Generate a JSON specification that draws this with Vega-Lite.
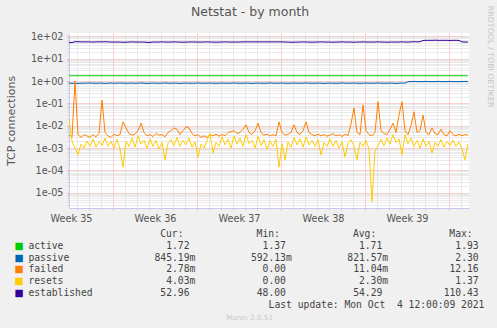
{
  "$schema": "https://vega.github.io/schema/vega-lite/v6.json",
  "background": "#f0f0f0",
  "padding": {"left": 5, "top": 5, "right": 6, "bottom": 8},
  "spacing": 5,
  "config": {"view": {"stroke": null}},
  "title": {"text": "RRDTOOL / TOBI OETIKER", "orient": "right", "anchor": "start", "font": "DejaVu Sans", "fontSize": 7.9, "fontWeight": "normal", "color": "#c4c4c4", "offset": 2},
  "datasets": {
    "series": [
      {"t":"2021-09-01T08:00","active":1.72,"passive":0.80,"failed":0.004,"resets":0.02,"established":52},
      {"t":"2021-09-01T14:00","active":1.72,"passive":0.79,"failed":0.003,"resets":0.002,"established":52},
      {"t":"2021-09-01T20:00","active":1.72,"passive":0.80,"failed":0.95,"resets":0.001,"established":57},
      {"t":"2021-09-02T02:00","active":1.72,"passive":0.78,"failed":0.004,"resets":0.0005,"established":57},
      {"t":"2021-09-02T08:00","active":1.72,"passive":0.79,"failed":0.003,"resets":0.0015,"established":56},
      {"t":"2021-09-02T14:00","active":1.72,"passive":0.81,"failed":0.004,"resets":0.001,"established":56},
      {"t":"2021-09-02T20:00","active":1.72,"passive":0.80,"failed":0.0035,"resets":0.002,"established":56},
      {"t":"2021-09-03T02:00","active":1.72,"passive":0.82,"failed":0.003,"resets":0.0012,"established":56},
      {"t":"2021-09-03T08:00","active":1.72,"passive":0.80,"failed":0.004,"resets":0.0025,"established":55},
      {"t":"2021-09-03T14:00","active":1.72,"passive":0.79,"failed":0.0032,"resets":0.0011,"established":56},
      {"t":"2021-09-03T20:00","active":1.72,"passive":0.81,"failed":0.0045,"resets":0.002,"established":56},
      {"t":"2021-09-04T02:00","active":1.72,"passive":0.80,"failed":0.14,"resets":0.0013,"established":56},
      {"t":"2021-09-04T08:00","active":1.72,"passive":0.78,"failed":0.005,"resets":0.0028,"established":57},
      {"t":"2021-09-04T14:00","active":1.72,"passive":0.80,"failed":0.0035,"resets":0.0012,"established":56},
      {"t":"2021-09-04T20:00","active":1.72,"passive":0.81,"failed":0.003,"resets":0.002,"established":55},
      {"t":"2021-09-05T02:00","active":1.72,"passive":0.79,"failed":0.0042,"resets":0.001,"established":55},
      {"t":"2021-09-05T08:00","active":1.72,"passive":0.80,"failed":0.0036,"resets":0.0025,"established":55},
      {"t":"2021-09-05T14:00","active":1.72,"passive":0.82,"failed":0.004,"resets":0.0009,"established":55},
      {"t":"2021-09-05T20:00","active":1.72,"passive":0.80,"failed":0.015,"resets":0.00014,"established":54},
      {"t":"2021-09-06T02:00","active":1.72,"passive":0.79,"failed":0.008,"resets":0.002,"established":54},
      {"t":"2021-09-06T08:00","active":1.72,"passive":0.80,"failed":0.0045,"resets":0.0012,"established":55},
      {"t":"2021-09-06T14:00","active":1.72,"passive":0.81,"failed":0.0038,"resets":0.0028,"established":56},
      {"t":"2021-09-06T20:00","active":1.72,"passive":0.79,"failed":0.0042,"resets":0.0011,"established":55},
      {"t":"2021-09-07T02:00","active":1.72,"passive":0.80,"failed":0.006,"resets":0.0035,"established":55},
      {"t":"2021-09-07T08:00","active":1.72,"passive":0.82,"failed":0.013,"resets":0.0015,"established":55},
      {"t":"2021-09-07T14:00","active":1.72,"passive":0.80,"failed":0.005,"resets":0.0022,"established":55},
      {"t":"2021-09-07T20:00","active":1.72,"passive":0.78,"failed":0.0035,"resets":0.001,"established":53},
      {"t":"2021-09-08T02:00","active":1.72,"passive":0.80,"failed":0.004,"resets":0.0026,"established":53},
      {"t":"2021-09-08T08:00","active":1.72,"passive":0.81,"failed":0.0033,"resets":0.0012,"established":55},
      {"t":"2021-09-08T14:00","active":1.72,"passive":0.80,"failed":0.0045,"resets":0.0022,"established":55},
      {"t":"2021-09-08T20:00","active":1.72,"passive":0.79,"failed":0.0038,"resets":0.0009,"established":55},
      {"t":"2021-09-09T02:00","active":1.72,"passive":0.80,"failed":0.004,"resets":0.0018,"established":56},
      {"t":"2021-09-09T08:00","active":1.72,"passive":0.82,"failed":0.0032,"resets":0.0003,"established":55},
      {"t":"2021-09-09T14:00","active":1.72,"passive":0.80,"failed":0.005,"resets":0.0016,"established":55},
      {"t":"2021-09-09T20:00","active":1.72,"passive":0.79,"failed":0.006,"resets":0.0024,"established":55},
      {"t":"2021-09-10T02:00","active":1.72,"passive":0.81,"failed":0.008,"resets":0.0013,"established":56},
      {"t":"2021-09-10T08:00","active":1.72,"passive":0.80,"failed":0.007,"resets":0.003,"established":55},
      {"t":"2021-09-10T14:00","active":1.72,"passive":0.78,"failed":0.004,"resets":0.0012,"established":55},
      {"t":"2021-09-10T20:00","active":1.72,"passive":0.80,"failed":0.006,"resets":0.0022,"established":54},
      {"t":"2021-09-11T02:00","active":1.72,"passive":0.81,"failed":0.009,"resets":0.0014,"established":55},
      {"t":"2021-09-11T08:00","active":1.72,"passive":0.80,"failed":0.008,"resets":0.0028,"established":55},
      {"t":"2021-09-11T14:00","active":1.72,"passive":0.79,"failed":0.0045,"resets":0.0011,"established":56},
      {"t":"2021-09-11T20:00","active":1.72,"passive":0.80,"failed":0.0035,"resets":0.0019,"established":55},
      {"t":"2021-09-12T02:00","active":1.72,"passive":0.82,"failed":0.004,"resets":0.0004,"established":55},
      {"t":"2021-09-12T08:00","active":1.72,"passive":0.80,"failed":0.003,"resets":0.0015,"established":55},
      {"t":"2021-09-12T14:00","active":1.72,"passive":0.79,"failed":0.0035,"resets":0.001,"established":55},
      {"t":"2021-09-12T20:00","active":1.72,"passive":0.80,"failed":0.003,"resets":0.0022,"established":56},
      {"t":"2021-09-13T02:00","active":1.72,"passive":0.81,"failed":0.004,"resets":0.0045,"established":55},
      {"t":"2021-09-13T08:00","active":1.72,"passive":0.80,"failed":0.0035,"resets":0.0006,"established":55},
      {"t":"2021-09-13T14:00","active":1.72,"passive":0.78,"failed":0.0042,"resets":0.0018,"established":54},
      {"t":"2021-09-13T20:00","active":1.72,"passive":0.80,"failed":0.0034,"resets":0.0012,"established":55},
      {"t":"2021-09-14T02:00","active":1.72,"passive":0.81,"failed":0.004,"resets":0.0032,"established":55},
      {"t":"2021-09-14T08:00","active":1.72,"passive":0.80,"failed":0.0036,"resets":0.0014,"established":56},
      {"t":"2021-09-14T14:00","active":1.72,"passive":0.79,"failed":0.005,"resets":0.0025,"established":55},
      {"t":"2021-09-14T20:00","active":1.72,"passive":0.80,"failed":0.0055,"resets":0.001,"established":55},
      {"t":"2021-09-15T02:00","active":1.72,"passive":0.82,"failed":0.006,"resets":0.0035,"established":55},
      {"t":"2021-09-15T08:00","active":1.72,"passive":0.80,"failed":0.0045,"resets":0.0015,"established":55},
      {"t":"2021-09-15T14:00","active":1.72,"passive":0.79,"failed":0.005,"resets":0.0028,"established":55},
      {"t":"2021-09-15T20:00","active":1.72,"passive":0.80,"failed":0.007,"resets":0.0012,"established":56},
      {"t":"2021-09-16T02:00","active":1.72,"passive":0.81,"failed":0.011,"resets":0.004,"established":56},
      {"t":"2021-09-16T08:00","active":1.72,"passive":0.80,"failed":0.005,"resets":0.0016,"established":56},
      {"t":"2021-09-16T14:00","active":1.72,"passive":0.78,"failed":0.004,"resets":0.0022,"established":56},
      {"t":"2021-09-16T20:00","active":1.72,"passive":0.80,"failed":0.006,"resets":0.001,"established":56},
      {"t":"2021-09-17T02:00","active":1.72,"passive":0.81,"failed":0.013,"resets":0.0034,"established":56},
      {"t":"2021-09-17T08:00","active":1.72,"passive":0.80,"failed":0.005,"resets":0.0013,"established":56},
      {"t":"2021-09-17T14:00","active":1.72,"passive":0.79,"failed":0.0038,"resets":0.0024,"established":56},
      {"t":"2021-09-17T20:00","active":1.72,"passive":0.80,"failed":0.0042,"resets":0.0009,"established":56},
      {"t":"2021-09-18T02:00","active":1.72,"passive":0.82,"failed":0.0035,"resets":0.0021,"established":56},
      {"t":"2021-09-18T08:00","active":1.72,"passive":0.80,"failed":0.004,"resets":0.0012,"established":56},
      {"t":"2021-09-18T14:00","active":1.72,"passive":0.79,"failed":0.0035,"resets":0.0025,"established":56},
      {"t":"2021-09-18T20:00","active":1.72,"passive":0.80,"failed":0.015,"resets":0.00014,"established":56},
      {"t":"2021-09-19T02:00","active":1.72,"passive":0.81,"failed":0.005,"resets":0.0016,"established":56},
      {"t":"2021-09-19T08:00","active":1.72,"passive":0.80,"failed":0.0038,"resets":0.0003,"established":55},
      {"t":"2021-09-19T14:00","active":1.72,"passive":0.78,"failed":0.0042,"resets":0.0019,"established":55},
      {"t":"2021-09-19T20:00","active":1.72,"passive":0.80,"failed":0.005,"resets":0.0011,"established":54},
      {"t":"2021-09-20T02:00","active":1.72,"passive":0.81,"failed":0.011,"resets":0.003,"established":54},
      {"t":"2021-09-20T08:00","active":1.72,"passive":0.80,"failed":0.005,"resets":0.0014,"established":55},
      {"t":"2021-09-20T14:00","active":1.72,"passive":0.79,"failed":0.004,"resets":0.0026,"established":55},
      {"t":"2021-09-20T20:00","active":1.72,"passive":0.80,"failed":0.006,"resets":0.0011,"established":56},
      {"t":"2021-09-21T02:00","active":1.72,"passive":0.82,"failed":0.015,"resets":0.0032,"established":55},
      {"t":"2021-09-21T08:00","active":1.72,"passive":0.80,"failed":0.005,"resets":0.0014,"established":55},
      {"t":"2021-09-21T14:00","active":1.72,"passive":0.79,"failed":0.004,"resets":0.0022,"established":54},
      {"t":"2021-09-21T20:00","active":1.72,"passive":0.80,"failed":0.0036,"resets":0.0012,"established":55},
      {"t":"2021-09-22T02:00","active":1.72,"passive":0.81,"failed":0.0042,"resets":0.0024,"established":55},
      {"t":"2021-09-22T08:00","active":1.72,"passive":0.80,"failed":0.0035,"resets":0.0005,"established":56},
      {"t":"2021-09-22T14:00","active":1.72,"passive":0.78,"failed":0.004,"resets":0.0018,"established":55},
      {"t":"2021-09-22T20:00","active":1.72,"passive":0.80,"failed":0.0034,"resets":0.0012,"established":55},
      {"t":"2021-09-23T02:00","active":1.72,"passive":0.81,"failed":0.0038,"resets":0.0026,"established":55},
      {"t":"2021-09-23T08:00","active":1.72,"passive":0.80,"failed":0.0045,"resets":0.0012,"established":54},
      {"t":"2021-09-23T14:00","active":1.72,"passive":0.79,"failed":0.0035,"resets":0.0022,"established":55},
      {"t":"2021-09-23T20:00","active":1.72,"passive":0.80,"failed":0.004,"resets":0.001,"established":55},
      {"t":"2021-09-24T02:00","active":1.72,"passive":0.82,"failed":0.0033,"resets":0.0019,"established":56},
      {"t":"2021-09-24T08:00","active":1.72,"passive":0.80,"failed":0.0042,"resets":0.0004,"established":55},
      {"t":"2021-09-24T14:00","active":1.72,"passive":0.79,"failed":0.0036,"resets":0.0016,"established":55},
      {"t":"2021-09-24T20:00","active":1.72,"passive":0.80,"failed":0.012,"resets":0.0024,"established":55},
      {"t":"2021-09-25T02:00","active":1.72,"passive":0.81,"failed":0.063,"resets":0.0012,"established":54},
      {"t":"2021-09-25T08:00","active":1.72,"passive":0.80,"failed":0.005,"resets":0.0003,"established":55},
      {"t":"2021-09-25T14:00","active":1.72,"passive":0.78,"failed":0.004,"resets":0.0018,"established":55},
      {"t":"2021-09-25T20:00","active":1.72,"passive":0.80,"failed":0.085,"resets":0.0012,"established":56},
      {"t":"2021-09-26T02:00","active":1.72,"passive":0.81,"failed":0.006,"resets":0.0022,"established":55},
      {"t":"2021-09-26T08:00","active":1.72,"passive":0.80,"failed":0.004,"resets":0.0009,"established":55},
      {"t":"2021-09-26T14:00","active":1.72,"passive":0.79,"failed":0.0035,"resets":0.000004,"established":55},
      {"t":"2021-09-26T20:00","active":1.72,"passive":0.80,"failed":0.005,"resets":0.0008,"established":55},
      {"t":"2021-09-27T02:00","active":1.72,"passive":0.82,"failed":0.12,"resets":0.0012,"established":56},
      {"t":"2021-09-27T08:00","active":1.72,"passive":0.80,"failed":0.006,"resets":0.0025,"established":55},
      {"t":"2021-09-27T14:00","active":1.72,"passive":0.79,"failed":0.0045,"resets":0.0013,"established":55},
      {"t":"2021-09-27T20:00","active":1.72,"passive":0.80,"failed":0.004,"resets":0.0028,"established":54},
      {"t":"2021-09-28T02:00","active":1.72,"passive":0.81,"failed":0.007,"resets":0.0015,"established":55},
      {"t":"2021-09-28T08:00","active":1.72,"passive":0.80,"failed":0.013,"resets":0.004,"established":55},
      {"t":"2021-09-28T14:00","active":1.72,"passive":0.78,"failed":0.005,"resets":0.0018,"established":55},
      {"t":"2021-09-28T20:00","active":1.72,"passive":0.80,"failed":0.03,"resets":0.0026,"established":55},
      {"t":"2021-09-29T02:00","active":1.72,"passive":0.81,"failed":0.12,"resets":0.0005,"established":56},
      {"t":"2021-09-29T08:00","active":1.72,"passive":0.80,"failed":0.006,"resets":0.004,"established":55},
      {"t":"2021-09-29T14:00","active":1.72,"passive":0.94,"failed":0.004,"resets":0.0016,"established":55},
      {"t":"2021-09-29T20:00","active":1.72,"passive":0.95,"failed":0.01,"resets":0.0028,"established":56},
      {"t":"2021-09-30T02:00","active":1.72,"passive":0.96,"failed":0.042,"resets":0.0012,"established":57},
      {"t":"2021-09-30T08:00","active":1.72,"passive":0.95,"failed":0.005,"resets":0.0022,"established":56},
      {"t":"2021-09-30T14:00","active":1.72,"passive":0.94,"failed":0.006,"resets":0.001,"established":57},
      {"t":"2021-09-30T20:00","active":1.72,"passive":0.95,"failed":0.03,"resets":0.0026,"established":65},
      {"t":"2021-10-01T02:00","active":1.72,"passive":0.96,"failed":0.005,"resets":0.0012,"established":66},
      {"t":"2021-10-01T08:00","active":1.72,"passive":0.95,"failed":0.004,"resets":0.002,"established":66},
      {"t":"2021-10-01T14:00","active":1.72,"passive":0.94,"failed":0.008,"resets":0.0006,"established":66},
      {"t":"2021-10-01T20:00","active":1.72,"passive":0.95,"failed":0.0045,"resets":0.0018,"established":67},
      {"t":"2021-10-02T02:00","active":1.72,"passive":0.96,"failed":0.004,"resets":0.0012,"established":66},
      {"t":"2021-10-02T08:00","active":1.72,"passive":0.95,"failed":0.007,"resets":0.0024,"established":66},
      {"t":"2021-10-02T14:00","active":1.72,"passive":0.94,"failed":0.004,"resets":0.0011,"established":66},
      {"t":"2021-10-02T20:00","active":1.72,"passive":0.95,"failed":0.0035,"resets":0.002,"established":66},
      {"t":"2021-10-03T02:00","active":1.72,"passive":0.96,"failed":0.006,"resets":0.0013,"established":65},
      {"t":"2021-10-03T08:00","active":1.72,"passive":0.95,"failed":0.004,"resets":0.0022,"established":66},
      {"t":"2021-10-03T14:00","active":1.72,"passive":0.94,"failed":0.0035,"resets":0.0012,"established":66},
      {"t":"2021-10-03T20:00","active":1.72,"passive":0.95,"failed":0.0042,"resets":0.0019,"established":65},
      {"t":"2021-10-04T02:00","active":1.72,"passive":0.95,"failed":0.0036,"resets":0.0009,"established":56},
      {"t":"2021-10-04T08:00","active":1.72,"passive":0.96,"failed":0.004,"resets":0.0003,"established":55},
      {"t":"2021-10-04T14:00","active":1.72,"passive":0.95,"failed":0.0038,"resets":0.0015,"established":55}
    ],
    "stats": [
      {"row":"active","col":"Cur","value":1.72,"unit":""},
      {"row":"active","col":"Min","value":1.37,"unit":""},
      {"row":"active","col":"Avg","value":1.71,"unit":""},
      {"row":"active","col":"Max","value":1.93,"unit":""},
      {"row":"passive","col":"Cur","value":845.19,"unit":"m"},
      {"row":"passive","col":"Min","value":592.13,"unit":"m"},
      {"row":"passive","col":"Avg","value":821.57,"unit":"m"},
      {"row":"passive","col":"Max","value":2.30,"unit":""},
      {"row":"failed","col":"Cur","value":2.78,"unit":"m"},
      {"row":"failed","col":"Min","value":0.00,"unit":""},
      {"row":"failed","col":"Avg","value":11.04,"unit":"m"},
      {"row":"failed","col":"Max","value":12.16,"unit":""},
      {"row":"resets","col":"Cur","value":4.03,"unit":"m"},
      {"row":"resets","col":"Min","value":0.00,"unit":""},
      {"row":"resets","col":"Avg","value":2.30,"unit":"m"},
      {"row":"resets","col":"Max","value":1.37,"unit":""},
      {"row":"established","col":"Cur","value":52.96,"unit":""},
      {"row":"established","col":"Min","value":48.00,"unit":""},
      {"row":"established","col":"Avg","value":54.29,"unit":""},
      {"row":"established","col":"Max","value":110.43,"unit":""}
    ]
  },
  "vconcat": [
    {
      "title": {"text": "Netstat - by month", "anchor": "middle", "frame": "group", "dx": -19, "font": "DejaVu Sans", "fontSize": 12.5, "fontWeight": "normal", "color": "#555555", "offset": 13},
      "width": 400,
      "height": 175,
      "view": {"fill": "white", "stroke": null},
      "data": {"name": "series"},
      "transform": [{"fold": ["active", "passive", "failed", "resets", "established"], "as": ["series", "v"]}],
      "mark": {"type": "line", "strokeWidth": 1, "clip": true},
      "encoding": {
        "x": {
          "field": "t", "type": "temporal",
          "scale": {"domain": [{"year": 2021, "month": 9, "date": 1, "hours": 8}, {"year": 2021, "month": 10, "date": 4, "hours": 16}], "nice": false},
          "axis": {
            "title": null,
            "values": [
              {"year":2021,"month":9,"date":2},{"year":2021,"month":9,"date":3},{"year":2021,"month":9,"date":4},{"year":2021,"month":9,"date":5},
              {"year":2021,"month":9,"date":6},{"year":2021,"month":9,"date":7},{"year":2021,"month":9,"date":8},{"year":2021,"month":9,"date":9},
              {"year":2021,"month":9,"date":10},{"year":2021,"month":9,"date":11},{"year":2021,"month":9,"date":12},{"year":2021,"month":9,"date":13},
              {"year":2021,"month":9,"date":14},{"year":2021,"month":9,"date":15},{"year":2021,"month":9,"date":16},{"year":2021,"month":9,"date":17},
              {"year":2021,"month":9,"date":18},{"year":2021,"month":9,"date":19},{"year":2021,"month":9,"date":20},{"year":2021,"month":9,"date":21},
              {"year":2021,"month":9,"date":22},{"year":2021,"month":9,"date":23},{"year":2021,"month":9,"date":24},{"year":2021,"month":9,"date":25},
              {"year":2021,"month":9,"date":26},{"year":2021,"month":9,"date":27},{"year":2021,"month":9,"date":28},{"year":2021,"month":9,"date":29},
              {"year":2021,"month":9,"date":30},{"year":2021,"month":10,"date":1},{"year":2021,"month":10,"date":2},{"year":2021,"month":10,"date":3},
              {"year":2021,"month":10,"date":4},
              {"year":2021,"month":9,"date":1,"hours":12},{"year":2021,"month":9,"date":8,"hours":12},{"year":2021,"month":9,"date":15,"hours":12},
              {"year":2021,"month":9,"date":22,"hours":12},{"year":2021,"month":9,"date":29,"hours":12}
            ],
            "labelExpr": "hours(datum.value) == 12 ? 'Week ' + timeFormat(datum.value, '%V') : ''",
            "labelOverlap": false,
            "labelFlush": false,
            "labelFont": "DejaVu Sans",
            "labelFontSize": 9.7,
            "labelColor": "#555555",
            "labelPadding": 3,
            "grid": true,
            "gridDash": [1, 1],
            "gridColor": {"condition": {"test": "day(datum.value) == 0", "value": "#f0a0a0"}, "value": "#d6d6d6"},
            "gridOpacity": {"condition": {"test": "hours(datum.value) == 12", "value": 0}, "value": 1},
            "tickSize": 2,
            "tickColor": {"condition": {"test": "day(datum.value) == 0", "value": "#f0a0a0"}, "value": "#d6d6d6"},
            "tickOpacity": {"condition": {"test": "hours(datum.value) == 12", "value": 0}, "value": 1},
            "domainColor": "#c8c8f0"
          }
        },
        "y": {
          "field": "v", "type": "quantitative",
          "scale": {"type": "log", "domain": [2.1e-6, 140], "nice": false},
          "axis": {
            "title": "TCP connections",
            "titleFont": "DejaVu Sans",
            "titleFontSize": 11,
            "titleFontWeight": "normal",
            "titleColor": "#555555",
            "titlePadding": 14,
            "values": [3e-6,4e-6,5e-6,6e-6,7e-6,8e-6,9e-6,
              1e-5,2e-5,3e-5,4e-5,5e-5,6e-5,7e-5,8e-5,9e-5,
              1e-4,2e-4,3e-4,4e-4,5e-4,6e-4,7e-4,8e-4,9e-4,
              0.001,0.002,0.003,0.004,0.005,0.006,0.007,0.008,0.009,
              0.01,0.02,0.03,0.04,0.05,0.06,0.07,0.08,0.09,
              0.1,0.2,0.3,0.4,0.5,0.6,0.7,0.8,0.9,
              1,2,3,4,5,6,7,8,9,
              10,20,30,40,50,60,70,80,90,100],
            "labelExpr": "abs(log(datum.value)/LN10 - round(log(datum.value)/LN10)) < 0.01 ? '1e' + (datum.value < 1 ? '-' : '+') + '0' + abs(round(log(datum.value)/LN10)) : ''",
            "labelOverlap": false,
            "labelFlush": false,
            "labelFont": "DejaVu Sans",
            "labelFontSize": 9.7,
            "labelColor": "#555555",
            "labelPadding": 4,
            "grid": true,
            "gridDash": [1, 1],
            "gridColor": {"condition": {"test": "abs(log(datum.value)/LN10 - round(log(datum.value)/LN10)) < 0.01", "value": "#f0a0a0"}, "value": "#d6d6d6"},
            "tickSize": 2,
            "tickColor": {"condition": {"test": "abs(log(datum.value)/LN10 - round(log(datum.value)/LN10)) < 0.01", "value": "#f0a0a0"}, "value": "#d6d6d6"},
            "domainColor": "#c8c8f0"
          }
        },
        "color": {
          "field": "series", "type": "nominal",
          "scale": {"domain": ["active", "passive", "failed", "resets", "established"], "range": ["#00cc00", "#0066b3", "#ff8000", "#ffcc00", "#330099"]},
          "legend": null
        }
      }
    },
    {
      "width": 409.7,
      "height": 82.8,
      "title": {"text": "Munin 2.0.51", "orient": "bottom", "anchor": "middle", "frame": "bounds", "dx": 0, "font": "DejaVu Sans", "fontSize": 7.2, "fontWeight": "normal", "color": "#c8c8c8", "offset": 3},
      "encoding": {
        "y": {"field": "row", "type": "nominal", "scale": {"type": "point", "domain": ["hdr", "active", "passive", "failed", "resets", "established", "update"], "padding": 0.5}, "axis": null},
        "x": {"field": "col", "type": "nominal", "scale": {"type": "point", "domain": ["name", "Cur", "Min", "Avg", "Max"], "padding": 0.125, "align": 1}, "axis": null}
      },
      "layer": [
        {
          "data": {"values": [
            {"row": "active", "col": "name"}, {"row": "passive", "col": "name"}, {"row": "failed", "col": "name"},
            {"row": "resets", "col": "name"}, {"row": "established", "col": "name"}
          ]},
          "mark": {"type": "text", "text": "■", "align": "center", "baseline": "middle", "dx": -74, "font": "DejaVu Sans", "fontSize": 9.7},
          "encoding": {
            "color": {"field": "row", "type": "nominal", "scale": {"domain": ["active", "passive", "failed", "resets", "established"], "range": ["#00cc00", "#0066b3", "#ff8000", "#ffcc00", "#330099"]}, "legend": null}
          }
        },
        {
          "data": {"values": [
            {"row": "active", "col": "name", "label": "active"}, {"row": "passive", "col": "name", "label": "passive"},
            {"row": "failed", "col": "name", "label": "failed"}, {"row": "resets", "col": "name", "label": "resets"},
            {"row": "established", "col": "name", "label": "established"}
          ]},
          "mark": {"type": "text", "align": "left", "baseline": "middle", "dx": -64.7, "font": "DejaVu Sans Mono", "fontSize": 9.7, "fill": "#444444"},
          "encoding": {"text": {"field": "label"}}
        },
        {
          "data": {"values": [
            {"row": "hdr", "col": "Cur", "label": "Cur:"}, {"row": "hdr", "col": "Min", "label": "Min:"},
            {"row": "hdr", "col": "Avg", "label": "Avg:"}, {"row": "hdr", "col": "Max", "label": "Max:"}
          ]},
          "mark": {"type": "text", "align": "right", "baseline": "middle", "dx": -6, "font": "DejaVu Sans Mono", "fontSize": 9.7, "fill": "#444444"},
          "encoding": {"text": {"field": "label"}}
        },
        {
          "data": {"name": "stats"},
          "mark": {"type": "text", "align": "right", "baseline": "middle", "font": "DejaVu Sans Mono", "fontSize": 9.7, "fill": "#444444"},
          "encoding": {"text": {"field": "value", "type": "quantitative", "format": ".2f"}}
        },
        {
          "data": {"name": "stats"},
          "transform": [{"filter": "datum.unit != ''"}],
          "mark": {"type": "text", "align": "left", "baseline": "middle", "font": "DejaVu Sans Mono", "fontSize": 9.7, "fill": "#444444"},
          "encoding": {"text": {"field": "unit"}}
        },
        {
          "data": {"values": [{"row": "update", "col": "Max", "label": "Last update: Mon Oct\u00a0 4 12:00:09 2021"}]},
          "mark": {"type": "text", "align": "right", "baseline": "middle", "dx": 5.7, "font": "DejaVu Sans Mono", "fontSize": 9.7, "fill": "#444444"},
          "encoding": {"text": {"field": "label"}}
        }
      ]
    }
  ]
}
